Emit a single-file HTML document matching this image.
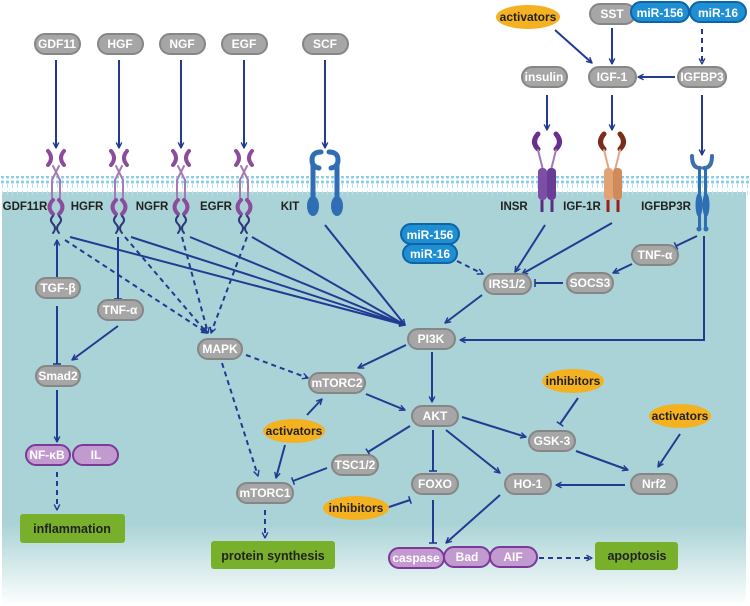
<!DOCTYPE html>
<html><head><meta charset="utf-8">
<style>
html,body{margin:0;padding:0;background:#fff;}
svg{display:block;}
text{font-family:"Liberation Sans",Arial,sans-serif;font-weight:bold;}
.g rect{fill:#a6a6a6;stroke:#868686;stroke-width:2;}
.w{fill:#fff;font-size:12px;text-anchor:middle;}
.d{fill:#222;font-size:11.5px;text-anchor:middle;}
.l{stroke:#233a92;stroke-width:2;fill:none;}
.ds{stroke:#233a92;stroke-width:2;fill:none;stroke-dasharray:5,4;}
</style></head><body>
<svg width="750" height="606" viewBox="0 0 750 606" xmlns="http://www.w3.org/2000/svg">
<defs>
<marker id="a" viewBox="0 0 10 10" refX="9" refY="5" markerWidth="7" markerHeight="7" orient="auto" markerUnits="userSpaceOnUse"><path d="M1,1 L9,5 L1,9" fill="none" stroke="#233a92" stroke-width="2"/></marker>
<marker id="t" viewBox="0 0 10 10" refX="9" refY="5" markerWidth="8" markerHeight="8" orient="auto" markerUnits="userSpaceOnUse"><path d="M9,0 L9,10" stroke="#233a92" stroke-width="2"/></marker>
<linearGradient id="cy" x1="0" y1="0" x2="0" y2="1">
<stop offset="0" stop-color="#a9d3d6"/><stop offset="0.8" stop-color="#a9d3d6"/><stop offset="1" stop-color="#ffffff"/></linearGradient>
<pattern id="mem" width="5" height="20" patternUnits="userSpaceOnUse">
<circle cx="2.5" cy="2" r="1.6" fill="#8ccde6"/><line x1="2.5" y1="4" x2="2.5" y2="8" stroke="#b8e2f0" stroke-width="1"/>
<line x1="2.5" y1="11" x2="2.5" y2="15" stroke="#b8e2f0" stroke-width="1"/><circle cx="2.5" cy="17" r="1.6" fill="#8ccde6"/></pattern>
<g id="rtk" stroke="#8b4c9b" fill="none" stroke-linecap="round">
<path d="M-8,151 Q-2,158 -8,165" stroke-width="4"/><path d="M8,151 Q2,158 8,165" stroke-width="4"/>
<path d="M-3,166 L4,180 L4,198 M3,166 L-4,180 L-4,198" stroke="#a77ab5" stroke-width="2"/>
<path d="M-3,200 Q-10,207 -3,214" stroke-width="4"/><path d="M3,200 Q10,207 3,214" stroke-width="4"/>
<path d="M-3,216 q-4,4 0,8 q4,4 0,9" stroke="#2c3a7a" stroke-width="2"/><path d="M3,216 q4,4 0,8 q-4,4 0,9" stroke="#2c3a7a" stroke-width="2"/>
</g>
</defs>
<rect x="2" y="192" width="744" height="414" fill="url(#cy)"/>
<rect x="0" y="176" width="750" height="19" fill="url(#mem)"/>

<!-- ligand arrows -->
<g class="l">
<line x1="56" y1="60" x2="56" y2="148" marker-end="url(#a)"/>
<line x1="119" y1="60" x2="119" y2="148" marker-end="url(#a)"/>
<line x1="181" y1="60" x2="181" y2="148" marker-end="url(#a)"/>
<line x1="244" y1="60" x2="244" y2="148" marker-end="url(#a)"/>
<line x1="325" y1="60" x2="325" y2="148" marker-end="url(#a)"/>
<line x1="555" y1="30" x2="592" y2="63" marker-end="url(#a)"/>
<line x1="612" y1="28" x2="612" y2="64" marker-end="url(#a)"/>
<line x1="675" y1="77" x2="638" y2="77" marker-end="url(#a)"/>
<line x1="547" y1="95" x2="547" y2="130" marker-end="url(#a)"/>
<line x1="612" y1="95" x2="612" y2="130" marker-end="url(#a)"/>
<line x1="702" y1="95" x2="702" y2="155" marker-end="url(#a)"/>
</g>
<line class="ds" x1="702" y1="29" x2="702" y2="64" marker-end="url(#a)"/>

<use href="#rtk" x="56"/>
<use href="#rtk" x="119"/>
<use href="#rtk" x="181"/>
<use href="#rtk" x="244"/>
<!-- KIT -->
<g stroke="#2f6db5" fill="none" stroke-width="5" stroke-linecap="round">
<path d="M321,152 Q312,152 312,160 Q312,167 319,168"/><path d="M329,152 Q338,152 338,160 Q338,167 331,168"/>
<path d="M313,165 L313,200 M337,165 L337,200"/>
</g>
<ellipse cx="313" cy="206" rx="6" ry="10" fill="#2f6db5"/><ellipse cx="337" cy="206" rx="6" ry="10" fill="#2f6db5"/>
<!-- INSR -->
<g fill="none" stroke-linecap="round">
<path d="M538,134 Q531,142 538,149" stroke="#6a2e8c" stroke-width="5"/><path d="M556,134 Q563,142 556,149" stroke="#6a2e8c" stroke-width="5"/>
<path d="M538,150 L543,170 M556,150 L551,170" stroke="#a07ab8" stroke-width="2"/>
<path d="M604,134 Q597,142 604,149" stroke="#7a2e1a" stroke-width="5"/><path d="M620,134 Q627,142 620,149" stroke="#7a2e1a" stroke-width="5"/>
<path d="M604,150 L609,170 M620,150 L615,170" stroke="#e0a585" stroke-width="2"/>
</g>
<rect x="538" y="168" width="9" height="32" rx="4" fill="#7d4ea5"/><rect x="547" y="168" width="9" height="32" rx="4" fill="#6b3c95"/>
<path d="M542,200 V212 M552,200 V212" stroke="#5a2c85" stroke-width="3"/>
<rect x="604" y="168" width="9" height="32" rx="4" fill="#e3a273"/><rect x="613" y="168" width="9" height="32" rx="4" fill="#d08b5b"/>
<path d="M608,200 V212 M618,200 V212" stroke="#9a2020" stroke-width="3"/>
<!-- IGFBP3R -->
<g fill="none" stroke="#3d6fae" stroke-width="4" stroke-linecap="round">
<path d="M692,156 Q692,168 700,168 M712,156 Q712,168 704,168"/>
</g>
<rect x="698" y="168" width="3" height="60" fill="#2f6db5"/><rect x="704" y="168" width="3" height="60" fill="#2f6db5"/>
<ellipse cx="699" cy="205" rx="3.5" ry="12" fill="#2f6db5"/><ellipse cx="706" cy="205" rx="3.5" ry="12" fill="#2f6db5"/>
<circle cx="699" cy="229" r="2.5" fill="#2f6db5"/><circle cx="706" cy="229" r="2.5" fill="#2f6db5"/>

<!-- receptor labels -->
<g class="d">
<text x="25" y="210">GDF11R</text><text x="87" y="210">HGFR</text><text x="152" y="210">NGFR</text>
<text x="216" y="210">EGFR</text><text x="290" y="210">KIT</text><text x="514" y="210">INSR</text>
<text x="582" y="210">IGF-1R</text><text x="666" y="210">IGFBP3R</text>
</g>

<!-- edges -->
<g class="l">
<line x1="70" y1="237" x2="405" y2="325" marker-end="url(#a)"/>
<line x1="131" y1="237" x2="405" y2="325" marker-end="url(#a)"/>
<line x1="190" y1="237" x2="405" y2="325" marker-end="url(#a)"/>
<line x1="252" y1="237" x2="405" y2="325" marker-end="url(#a)"/>
<line x1="325" y1="225" x2="405" y2="325" marker-end="url(#a)"/>
<line x1="118" y1="237" x2="118" y2="299" marker-end="url(#t)"/>
<line x1="57" y1="278" x2="57" y2="240" marker-end="url(#a)"/>
<line x1="57" y1="306" x2="57" y2="364" marker-end="url(#t)"/>
<line x1="118" y1="326" x2="72" y2="360" marker-end="url(#a)"/>
<line x1="57" y1="390" x2="57" y2="442" marker-end="url(#a)"/>
<line x1="545" y1="225" x2="515" y2="272" marker-end="url(#a)"/>
<line x1="612" y1="223" x2="522" y2="274" marker-end="url(#a)"/>
<line x1="482" y1="295" x2="445" y2="323" marker-end="url(#a)"/>
<line x1="697" y1="236" x2="676" y2="246" marker-end="url(#t)"/>
<line x1="632" y1="264" x2="613" y2="273" marker-end="url(#a)"/>
<line x1="563" y1="283" x2="535" y2="283" marker-end="url(#t)"/>
<polyline points="704,236 704,340 460,340" marker-end="url(#a)"/>
<line x1="406" y1="345" x2="358" y2="368" marker-end="url(#a)"/>
<line x1="432" y1="352" x2="432" y2="402" marker-end="url(#a)"/>
<line x1="366" y1="394" x2="405" y2="410" marker-end="url(#a)"/>
<line x1="307" y1="415" x2="322" y2="399" marker-end="url(#a)"/>
<line x1="285" y1="445" x2="276" y2="478" marker-end="url(#a)"/>
<line x1="327" y1="468" x2="293" y2="481" marker-end="url(#t)"/>
<line x1="410" y1="426" x2="368" y2="452" marker-end="url(#t)"/>
<line x1="433" y1="430" x2="433" y2="471" marker-end="url(#t)"/>
<line x1="446" y1="430" x2="500" y2="473" marker-end="url(#a)"/>
<line x1="462" y1="417" x2="526" y2="437" marker-end="url(#a)"/>
<line x1="578" y1="398" x2="560" y2="424" marker-end="url(#t)"/>
<line x1="576" y1="451" x2="628" y2="470" marker-end="url(#a)"/>
<line x1="680" y1="434" x2="658" y2="467" marker-end="url(#a)"/>
<line x1="625" y1="485" x2="556" y2="485" marker-end="url(#a)"/>
<line x1="386" y1="508" x2="410" y2="500" marker-end="url(#t)"/>
<line x1="433" y1="500" x2="433" y2="543" marker-end="url(#t)"/>
<line x1="500" y1="495" x2="446" y2="543" marker-end="url(#a)"/>
</g>
<g class="ds">
<line x1="65" y1="240" x2="207" y2="333" marker-end="url(#a)"/>
<line x1="125" y1="237" x2="207" y2="333" marker-end="url(#a)"/>
<line x1="182" y1="237" x2="208" y2="333" marker-end="url(#a)"/>
<line x1="247" y1="237" x2="211" y2="333" marker-end="url(#a)"/>
<line x1="246" y1="355" x2="308" y2="378" marker-end="url(#a)"/>
<line x1="222" y1="363" x2="258" y2="476" marker-end="url(#a)"/>
<line x1="457" y1="261" x2="483" y2="274" marker-end="url(#a)"/>
<line x1="57" y1="472" x2="57" y2="510" marker-end="url(#a)"/>
<line x1="265" y1="510" x2="265" y2="538" marker-end="url(#a)"/>
<line x1="539" y1="558" x2="592" y2="558" marker-end="url(#a)"/>
</g>

<!-- gray nodes -->
<g class="g">
<rect x="35" y="34" width="45" height="20" rx="10"/><rect x="98" y="34" width="45" height="20" rx="10"/>
<rect x="160" y="34" width="45" height="20" rx="10"/><rect x="222" y="34" width="45" height="20" rx="10"/>
<rect x="303" y="34" width="45" height="20" rx="10"/>
<rect x="590" y="4" width="45" height="20" rx="10"/>
<rect x="522" y="67" width="45" height="20" rx="10"/><rect x="589" y="67" width="47" height="20" rx="10"/>
<rect x="678" y="67" width="48" height="20" rx="10"/>
<rect x="36" y="278" width="44" height="20" rx="10"/><rect x="98" y="300" width="45" height="20" rx="10"/>
<rect x="36" y="366" width="44" height="20" rx="10"/><rect x="198" y="339" width="44" height="20" rx="10"/>
<rect x="408" y="329" width="47" height="20" rx="10"/><rect x="309" y="373" width="56" height="20" rx="10"/>
<rect x="412" y="406" width="46" height="20" rx="10"/><rect x="529" y="431" width="46" height="20" rx="10"/>
<rect x="631" y="474" width="46" height="20" rx="10"/><rect x="505" y="474" width="46" height="20" rx="10"/>
<rect x="412" y="474" width="46" height="20" rx="10"/><rect x="332" y="455" width="46" height="20" rx="10"/>
<rect x="237" y="483" width="56" height="20" rx="10"/>
<rect x="484" y="274" width="47" height="20" rx="10"/><rect x="567" y="273" width="46" height="20" rx="10"/>
<rect x="632" y="245" width="46" height="20" rx="10"/>
</g>
<g class="w">
<text x="57" y="48">GDF11</text><text x="120" y="48">HGF</text><text x="182" y="48">NGF</text><text x="244" y="48">EGF</text><text x="325" y="48">SCF</text>
<text x="612" y="18">SST</text><text x="544" y="81">insulin</text><text x="612" y="81">IGF-1</text><text x="702" y="81">IGFBP3</text>
<text x="58" y="292">TGF-β</text><text x="120" y="314">TNF-α</text><text x="58" y="380">Smad2</text><text x="220" y="353">MAPK</text>
<text x="431" y="343">PI3K</text><text x="337" y="387">mTORC2</text><text x="435" y="420">AKT</text><text x="552" y="445">GSK-3</text>
<text x="654" y="488">Nrf2</text><text x="528" y="488">HO-1</text><text x="435" y="488">FOXO</text><text x="355" y="469">TSC1/2</text>
<text x="265" y="497">mTORC1</text><text x="507" y="288">IRS1/2</text><text x="590" y="287">SOCS3</text><text x="655" y="259">TNF-α</text>
</g>

<!-- blue miRNA -->
<g fill="#1d8fd2" stroke="#0f64a8" stroke-width="2">
<rect x="631" y="2" width="58" height="20" rx="10"/><rect x="690" y="2" width="56" height="20" rx="10"/>
<rect x="401" y="224" width="58" height="20" rx="10"/><rect x="403" y="244" width="54" height="19" rx="9.5"/>
</g>
<g class="w">
<text x="660" y="17">miR-156</text><text x="718" y="17">miR-16</text>
<text x="430" y="239">miR-156</text><text x="430" y="258">miR-16</text>
</g>

<!-- orange -->
<g fill="#f4b120">
<ellipse cx="528" cy="17" rx="32" ry="12"/><ellipse cx="294" cy="431" rx="31" ry="12"/>
<ellipse cx="573" cy="381" rx="31" ry="12"/><ellipse cx="680" cy="416" rx="31" ry="12"/>
<ellipse cx="356" cy="508" rx="33" ry="12"/>
</g>
<g class="d" style="font-size:12px">
<text x="528" y="21">activators</text><text x="294" y="435">activators</text><text x="573" y="385">inhibitors</text>
<text x="680" y="420">activators</text><text x="356" y="512">inhibitors</text>
</g>

<!-- purple -->
<g fill="#c29ad0" stroke="#7a3a97" stroke-width="2">
<rect x="26" y="445" width="44" height="20" rx="10"/><rect x="73" y="445" width="45" height="20" rx="10"/>
<rect x="389" y="548" width="55" height="20" rx="10"/><rect x="444" y="547" width="46" height="20" rx="10"/><rect x="490" y="547" width="47" height="20" rx="10"/>
</g>
<g class="w">
<text x="47" y="459">NF-κB</text><text x="96" y="459">IL</text>
<text x="416" y="562">caspase</text><text x="467" y="561">Bad</text><text x="513" y="561">AIF</text>
</g>

<!-- green -->
<g fill="#79b02b">
<rect x="20" y="514" width="105" height="29" rx="3"/><rect x="211" y="541" width="124" height="28" rx="3"/>
<rect x="595" y="542" width="83" height="28" rx="3"/>
</g>
<g class="d" style="font-size:12.5px">
<text x="72" y="533">inflammation</text><text x="273" y="560">protein synthesis</text><text x="637" y="560">apoptosis</text>
</g>
</svg>
</body></html>
